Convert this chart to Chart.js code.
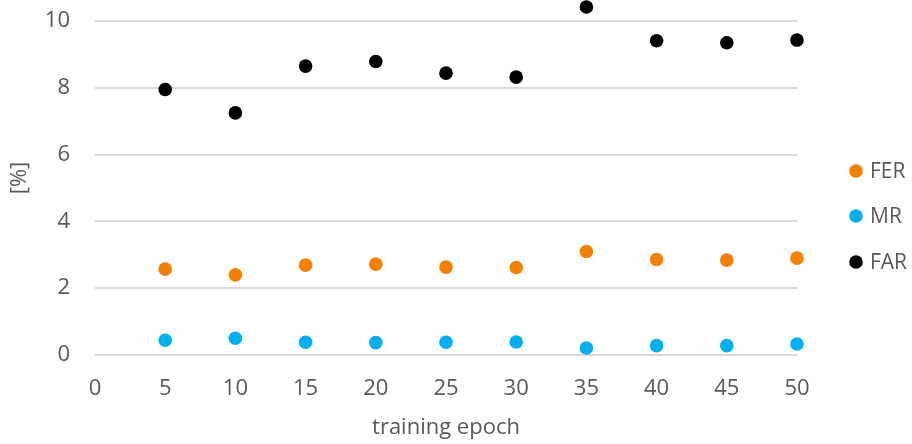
<!DOCTYPE html>
<html><head><meta charset="utf-8">
<script src="https://cdn.jsdelivr.net/npm/chart.js@4"></script>
<style>html,body{margin:0;padding:0;background:#fff}#w{width:912px;height:444px}</style>
</head><body><div id="w"><canvas id="c" width="912" height="444"></canvas></div>
<script>
const epochs = [5,10,15,20,25,30,35,40,45,50];
const fer = [2.57,2.40,2.69,2.72,2.63,2.62,3.10,2.86,2.84,2.90];
const mr  = [0.44,0.50,0.38,0.37,0.38,0.39,0.21,0.28,0.28,0.33];
const far = [7.95,7.25,8.65,8.79,8.44,8.32,10.42,9.41,9.35,9.43];
const yTicks = [0,2,4,6,8,10];
const seriesNames = ['FER','MR','FAR'];
const seriesColors = ['#F58000','#00B0F0','#000000'];
const FONT = "'Open Sans', sans-serif";
const TXT = '#595959';
const pts = v => epochs.map((e,i)=>({x:e,y:v[i]}));
const all = [fer,mr,far];
const legendPlugin = {
  id:'sideLegend',
  afterDraw(chart){
    const ctx = chart.ctx;
    const ys = [171,216,262];
    ctx.save();
    ctx.font = "21px " + FONT;
    ctx.textBaseline = 'middle';
    ctx.textAlign = 'left';
    seriesNames.forEach((n,i)=>{
      ctx.fillStyle = seriesColors[i];
      ctx.beginPath(); ctx.arc(856, ys[i], 6.8, 0, Math.PI*2); ctx.fill();
      ctx.fillStyle = TXT;
      ctx.fillText(n, 870, ys[i]+1);
    });
    ctx.restore();
  }
};
new Chart(document.getElementById('c'), {
  type:'scatter',
  data:{datasets: seriesNames.map((n,i)=>({
    label:n, data:pts(all[i]), backgroundColor:seriesColors[i], borderColor:seriesColors[i],
    pointRadius:6.8, pointHoverRadius:6.8, borderWidth:0, clip:false
  }))},
  options:{
    responsive:false, animation:false, devicePixelRatio:1,
    layout:{autoPadding:false, padding:{left:0,top:1,right:115,bottom:0}},
    plugins:{legend:{display:false}, tooltip:{enabled:false}},
    scales:{
      x:{type:'linear', min:0, max:50,
        ticks:{stepSize:5, color:TXT, font:{family:FONT,size:22}, padding:21},
        grid:{display:false, drawTicks:false}, border:{display:false},
        title:{display:true, text:'training epoch', color:TXT, font:{family:FONT,size:22}, padding:{top:0,bottom:3}},
        afterFit(s){ s.height = 89; s.paddingLeft = 0; s.paddingRight = 0; }
      },
      y:{min:0, max:10.6,
        afterBuildTicks(s){ s.ticks = yTicks.map(v=>({value:v})); },
        ticks:{color:TXT, font:{family:FONT,size:22}, padding:25},
        grid:{color:'#D9D9D9', lineWidth:2, drawTicks:false}, border:{display:false},
        title:{display:true, text:'[%]', color:TXT, font:{family:FONT,size:22}, padding:{top:7,bottom:0}},
        afterFit(s){ s.width = 95; s.paddingTop = 0; s.paddingBottom = 0; }
      }
    }
  },
  plugins:[legendPlugin]
});
</script></body></html>
